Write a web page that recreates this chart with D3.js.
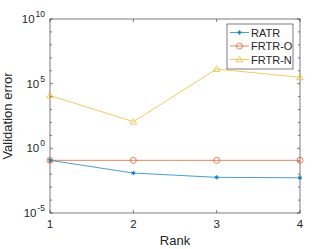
<!DOCTYPE html>
<html>
<head>
<meta charset="utf-8">
<script src="https://cdn.jsdelivr.net/npm/d3@7"></script>
<style>
  body { margin: 0; background: #fff; }
  text { font-family: "Liberation Sans", Arial, sans-serif; }
</style>
</head>
<body>
<svg id="chart" width="332" height="249"></svg>
<script>
// data
const ranks = [1, 2, 3, 4];
const ratr = [0.118, 0.0123, 0.0057, 0.0053];
const frtrO = [0.118, 0.118, 0.118, 0.118];
const frtrN = [1.2e4, 115, 1.35e6, 3.1e5];
const yTickExps = [-5, 0, 5, 10];

const series = [
  { name: "RATR", values: ratr, color: "#0072BD", marker: "star" },
  { name: "FRTR-O", values: frtrO, color: "#D95319", marker: "circle" },
  { name: "FRTR-N", values: frtrN, color: "#EDB120", marker: "triangle" },
];

const margin = { top: 19, right: 32, bottom: 36, left: 50 };
const width = 332 - margin.left - margin.right,
  height = 249 - margin.top - margin.bottom;

const svg = d3.select("#chart");
const g = svg.append("g").attr("transform", `translate(${margin.left},${margin.top})`);

const x = d3.scaleLinear().domain([1, 4]).range([0, width]);
const y = d3.scaleLog().domain([1e-5, 1e10]).range([height, 0]);

const axisColor = "#262626";
const minorExps = d3.range(-5, 11);

// box + ticks
g.append("rect").attr("width", width).attr("height", height)
  .attr("fill", "none").attr("stroke", axisColor).attr("stroke-width", 0.6);

minorExps.forEach((e) => {
  const yy = y(Math.pow(10, e));
  const len = yTickExps.includes(e) ? 3 : 2;
  g.append("line").attr("x1", 0).attr("x2", len).attr("y1", yy).attr("y2", yy)
    .attr("stroke", axisColor).attr("stroke-width", 0.6);
  g.append("line").attr("x1", width).attr("x2", width - len).attr("y1", yy).attr("y2", yy)
    .attr("stroke", axisColor).attr("stroke-width", 0.6);
});
ranks.forEach((r) => {
  g.append("line").attr("x1", x(r)).attr("x2", x(r)).attr("y1", height).attr("y2", height - 3)
    .attr("stroke", axisColor).attr("stroke-width", 0.6);
  g.append("line").attr("x1", x(r)).attr("x2", x(r)).attr("y1", 0).attr("y2", 3)
    .attr("stroke", axisColor).attr("stroke-width", 0.6);
  g.append("text").attr("x", x(r)).attr("y", height + 15)
    .attr("text-anchor", "middle").style("font-size", "11.5px").attr("fill", axisColor)
    .text(r);
});

// y tick labels 10^e
yTickExps.forEach((e) => {
  const t = g.append("text").attr("x", -5).attr("y", y(Math.pow(10, e)) + 4)
    .attr("text-anchor", "end").style("font-size", "11.5px").attr("fill", axisColor);
  t.append("tspan").text("10");
  t.append("tspan").attr("dy", -6).attr("dx", 1).style("font-size", "8.5px").text(e < 0 ? "-" + (-e) : e);
});

// axis labels
g.append("text").attr("x", width / 2).attr("y", height + 32)
  .attr("text-anchor", "middle").style("font-size", "13px").attr("fill", axisColor).text("Rank");
g.append("text").attr("transform", `translate(${-38},${height / 2}) rotate(-90)`)
  .attr("text-anchor", "middle").style("font-size", "13px").attr("fill", axisColor)
  .text("Validation error");

function drawMarker(sel, type, cx, cy, color) {
  if (type === "circle") {
    sel.append("circle").attr("cx", cx).attr("cy", cy).attr("r", 3)
      .attr("fill", "none").attr("stroke", color).attr("stroke-width", 0.7);
  } else if (type === "triangle") {
    sel.append("path").attr("d", `M${cx},${cy - 3.2}L${cx + 3.3},${cy + 2.4}L${cx - 3.3},${cy + 2.4}Z`)
      .attr("fill", "none").attr("stroke", color).attr("stroke-width", 0.7);
  } else {
    sel.append("path").attr("d", d3.symbol(d3.symbolAsterisk, 14)()).attr("transform", `translate(${cx},${cy})`)
      .attr("fill", "none").attr("stroke", color).attr("stroke-width", 0.9);
  }
}

const line = d3.line().x((d, i) => x(ranks[i])).y((d) => y(d));

series.forEach((s) => {
  g.append("path").datum(s.values).attr("d", line)
    .attr("fill", "none").attr("stroke", s.color).attr("stroke-width", 0.7);
  s.values.forEach((v, i) => drawMarker(g, s.marker, x(ranks[i]), y(v), s.color));
});

// legend
const lg = svg.append("g").attr("transform", "translate(227,24)");
lg.append("rect").attr("width", 66).attr("height", 45)
  .attr("fill", "#fff").attr("stroke", axisColor).attr("stroke-width", 0.6);
series.forEach((s, i) => {
  const ly = 8.5 + i * 13.5;
  lg.append("line").attr("x1", 3).attr("x2", 22).attr("y1", ly).attr("y2", ly)
    .attr("stroke", s.color).attr("stroke-width", 0.7);
  drawMarker(lg, s.marker, 12.5, ly, s.color);
  lg.append("text").attr("x", 24).attr("y", ly + 4).style("font-size", "11px")
    .attr("fill", axisColor).text(s.name);
});
</script>
</body>
</html>
